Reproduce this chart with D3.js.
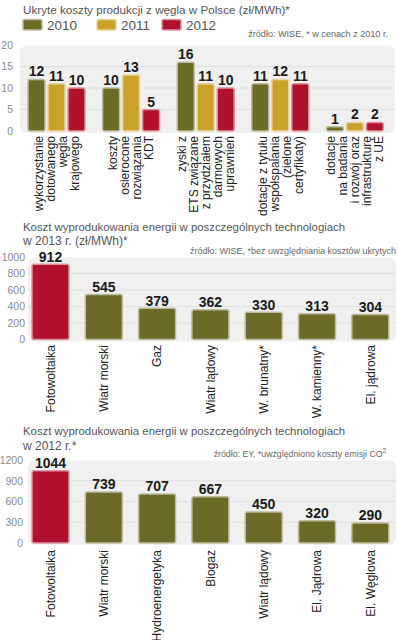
<!DOCTYPE html>
<html><head><meta charset="utf-8">
<script src="https://cdn.jsdelivr.net/npm/d3@7"></script>
<style>
body{margin:0;background:#fff;}
svg{display:block;font-family:"Liberation Sans",Arial,sans-serif;}
</style></head><body>
<svg id="c" width="398" height="640"></svg>
<script>
// ---- Chart 1 data ----
const groups1 = [
  ["wykorzystanie","dotowanego","węgla","krajowego"],
  ["koszty","osierocone","rozwiązania","KDT"],
  ["zyski z","ETS związane","z przydziałem","darmowych","uprawnień"],
  ["dotacje z tytułu","współspalania","(zielone","certyfikaty)"],
  ["dotacje","na badania","i rozwój oraz","infrastrukturę","z UE"]
];
const years = ["2010","2011","2012"];
const values2010 = [12,10,16,11,1];
const values2011 = [11,13,11,12,2];
const values2012 = [10,5,10,11,2];
const ticks1 = [0,5,10,15,20];

// ---- Chart 2 data ----
const categories2 = ["Fotowoltaika","Wiatr morski","Gaz","Wiatr lądowy","W. brunatny*","W. kamienny*","El. jądrowa"];
const values2 = [912,545,379,362,330,313,304];
const ticks2 = [0,200,400,600,800,1000];

// ---- Chart 3 data ----
const categories3 = ["Fotowoltaika","Wiatr morski","Hydroenergetyka","Biogaz","Wiatr lądowy","El. Jądrowa","El. Węglowa"];
const values3 = [1044,739,707,667,450,320,290];
const ticks3 = [0,300,600,900,1200];

const OLIVE="#6b6a27", GOLD="#c9a12b", RED="#b1112f";
const yearColors = [OLIVE,GOLD,RED];
const lighten = c => d3.interpolateRgb(c,"#ffffff")(0.55);

const svg = d3.select("#c");

function text(x,y,str,opts){
  const t = svg.append("text").attr("x",x).attr("y",y).text(str);
  for(const k in opts) t.attr(k,opts[k]);
  return t;
}
// scale font-size so the text's natural width equals `w`
function fit(t,w){
  const fs = parseFloat(t.attr("font-size"));
  const len = t.node().getComputedTextLength();
  if(len>0) t.attr("font-size",(fs*w/len).toFixed(2)+"px");
  return t;
}

function panel(x0,x1,y,ticks,tickX){
  const g = svg.append("g");
  g.append("rect").attr("x",x0).attr("y",y(ticks[ticks.length-1])+0.5)
    .attr("width",x1-x0).attr("height",y(0)-y(ticks[ticks.length-1])+1.5)
    .attr("rx",7).attr("fill","#f0f0f0");
  g.selectAll("line.grid").data(ticks.slice(1,-1)).join("line")
    .attr("x1",x0).attr("x2",x1).attr("y1",d=>y(d)).attr("y2",d=>y(d))
    .attr("stroke","#e0e0e0").attr("stroke-width",1);
  const ax = d3.axisLeft(y).tickValues(ticks).tickFormat(d3.format("d")).tickSize(0).tickPadding(0);
  const a = svg.append("g").attr("transform",`translate(${tickX},0)`).call(ax);
  a.select(".domain").remove();
  a.selectAll("text").attr("fill","#8a8a8a").attr("font-size","10.5px")
    .attr("font-family","Liberation Sans, Arial, sans-serif");
}

function bar(sel){
  sel.attr("rx",2).attr("stroke-width",1.5);
}

// ================= Chart 1 =================
fit(text(23,13.5,"Ukryte koszty produkcji z węgla w Polsce (zł/MWh)*",
  {"font-size":"12px",fill:"#555"}),267);
const legX = [23,97,162];
years.forEach((yr,i)=>{
  svg.append("rect").attr("x",legX[i]).attr("y",19.5).attr("width",19).attr("height",10.5)
    .attr("rx",1.5).attr("fill",yearColors[i]).attr("stroke",lighten(yearColors[i])).attr("stroke-width",1.5);
  text(legX[i]+24,29.5,yr,{"font-size":"13.5px",fill:"#555"});
});
fit(text(388,37,"źródło: WISE, * w cenach z 2010 r.",
  {"font-size":"10px",fill:"#666","text-anchor":"end"}),140);

const y1 = d3.scaleLinear().domain([0,20]).range([131,45]);
const x1 = d3.scaleBand().domain(d3.range(groups1.length)).range([19.2,392.2]).paddingInner(0.236).paddingOuter(0.118);
const xs1 = d3.scaleBand().domain(years).range([0,x1.bandwidth()]).paddingInner(0.15);
panel(20,395,y1,ticks1,13);

const series1 = [values2010,values2011,values2012];
const rows1 = [];
groups1.forEach((g,gi)=>years.forEach((yr,yi)=>rows1.push({gi,yr,yi,v:series1[yi][gi]})));
svg.append("g").selectAll("rect").data(rows1).join("rect")
  .attr("x",d=>x1(d.gi)+xs1(d.yr)).attr("width",xs1.bandwidth())
  .attr("y",d=>y1(d.v)).attr("height",d=>y1(0)-y1(d.v))
  .attr("fill",d=>yearColors[d.yi]).attr("stroke",d=>lighten(yearColors[d.yi])).call(bar);
svg.append("g").selectAll("text").data(rows1).join("text")
  .attr("x",d=>x1(d.gi)+xs1(d.yr)+xs1.bandwidth()/2).attr("y",d=>y1(d.v)-3)
  .attr("text-anchor","middle").attr("font-size","14px").attr("font-weight","bold")
  .attr("fill","#1a1a1a").text(d=>d.v);
// x labels (rotated, multiline)
groups1.forEach((lines,gi)=>{
  const cx = x1(gi)+x1.bandwidth()/2;
  const n = lines.length, lh = 12;
  lines.forEach((ln,li)=>{
    const lx = cx + (li-(n-1)/2)*lh;
    svg.append("text").attr("transform",`translate(${lx},136) rotate(-90)`)
      .attr("text-anchor","end").attr("dy","0.36em").attr("font-size","12px").attr("fill","#222").text(ln);
  });
});

// ================= Chart 2 =================
fit(text(23,231,"Koszt wyprodukowania energii w poszczególnych technologiach",
  {"font-size":"12px",fill:"#555"}),322);
text(23,244.5,"w 2013 r. (zł/MWh)*",{"font-size":"12px",fill:"#555"});
fit(text(396,253.5,"źródło: WISE, *bez uwzględniania kosztów ukrytych",
  {"font-size":"10px",fill:"#666","text-anchor":"end"}),206);
const y2 = d3.scaleLinear().domain([0,1000]).range([339.5,257]);
const x2 = d3.scaleBand().domain(categories2).range([23.85,397]).paddingInner(0.306).paddingOuter(0.153);
panel(28,396,y2,ticks2,25);
const rows2 = categories2.map((c,i)=>({c,v:values2[i],i}));
svg.append("g").selectAll("rect").data(rows2).join("rect")
  .attr("x",d=>x2(d.c)).attr("width",x2.bandwidth())
  .attr("y",d=>y2(d.v)).attr("height",d=>y2(0)-y2(d.v))
  .attr("fill",d=>d.i===0?RED:OLIVE).attr("stroke",d=>lighten(d.i===0?RED:OLIVE)).call(bar);
svg.append("g").selectAll("text").data(rows2).join("text")
  .attr("x",d=>x2(d.c)+x2.bandwidth()/2).attr("y",d=>y2(d.v)-2.5)
  .attr("text-anchor","middle").attr("font-size","14px").attr("font-weight","bold")
  .attr("fill","#1a1a1a").text(d=>d.v);
svg.append("g").selectAll("text").data(rows2).join("text")
  .attr("transform",d=>`translate(${x2(d.c)+x2.bandwidth()/2},345) rotate(-90)`)
  .attr("text-anchor","end").attr("dy","0.36em").attr("font-size","12px").attr("fill","#222").text(d=>d.c);

// ================= Chart 3 =================
fit(text(23,435,"Koszt wyprodukowania energii w poszczególnych technologiach",
  {"font-size":"12px",fill:"#555"}),322);
text(23,449.5,"w 2012 r.*",{"font-size":"12px",fill:"#555"});
const src3 = fit(text(386.5,456.5,"źródło: EY, *uwzględniono koszty emisji CO",
  {"font-size":"10px",fill:"#666","text-anchor":"end"}),169);
src3.append("tspan").attr("font-size","7px").attr("dy","-4").text("2");
const y3 = d3.scaleLinear().domain([0,1200]).range([543,460]);
const x3 = d3.scaleBand().domain(categories3).range([23.85,397]).paddingInner(0.306).paddingOuter(0.153);
panel(28,396,y3,ticks3,23);
const rows3 = categories3.map((c,i)=>({c,v:values3[i],i}));
svg.append("g").selectAll("rect").data(rows3).join("rect")
  .attr("x",d=>x3(d.c)).attr("width",x3.bandwidth())
  .attr("y",d=>y3(d.v)).attr("height",d=>y3(0)-y3(d.v))
  .attr("fill",d=>d.i===0?RED:OLIVE).attr("stroke",d=>lighten(d.i===0?RED:OLIVE)).call(bar);
svg.append("g").selectAll("text").data(rows3).join("text")
  .attr("x",d=>x3(d.c)+x3.bandwidth()/2).attr("y",d=>y3(d.v)-3)
  .attr("text-anchor","middle").attr("font-size","14px").attr("font-weight","bold")
  .attr("fill","#1a1a1a").text(d=>d.v);
svg.append("g").selectAll("text").data(rows3).join("text")
  .attr("transform",d=>`translate(${x3(d.c)+x3.bandwidth()/2},550) rotate(-90)`)
  .attr("text-anchor","end").attr("dy","0.36em").attr("font-size","12px").attr("fill","#222").text(d=>d.c);
</script></body></html>
